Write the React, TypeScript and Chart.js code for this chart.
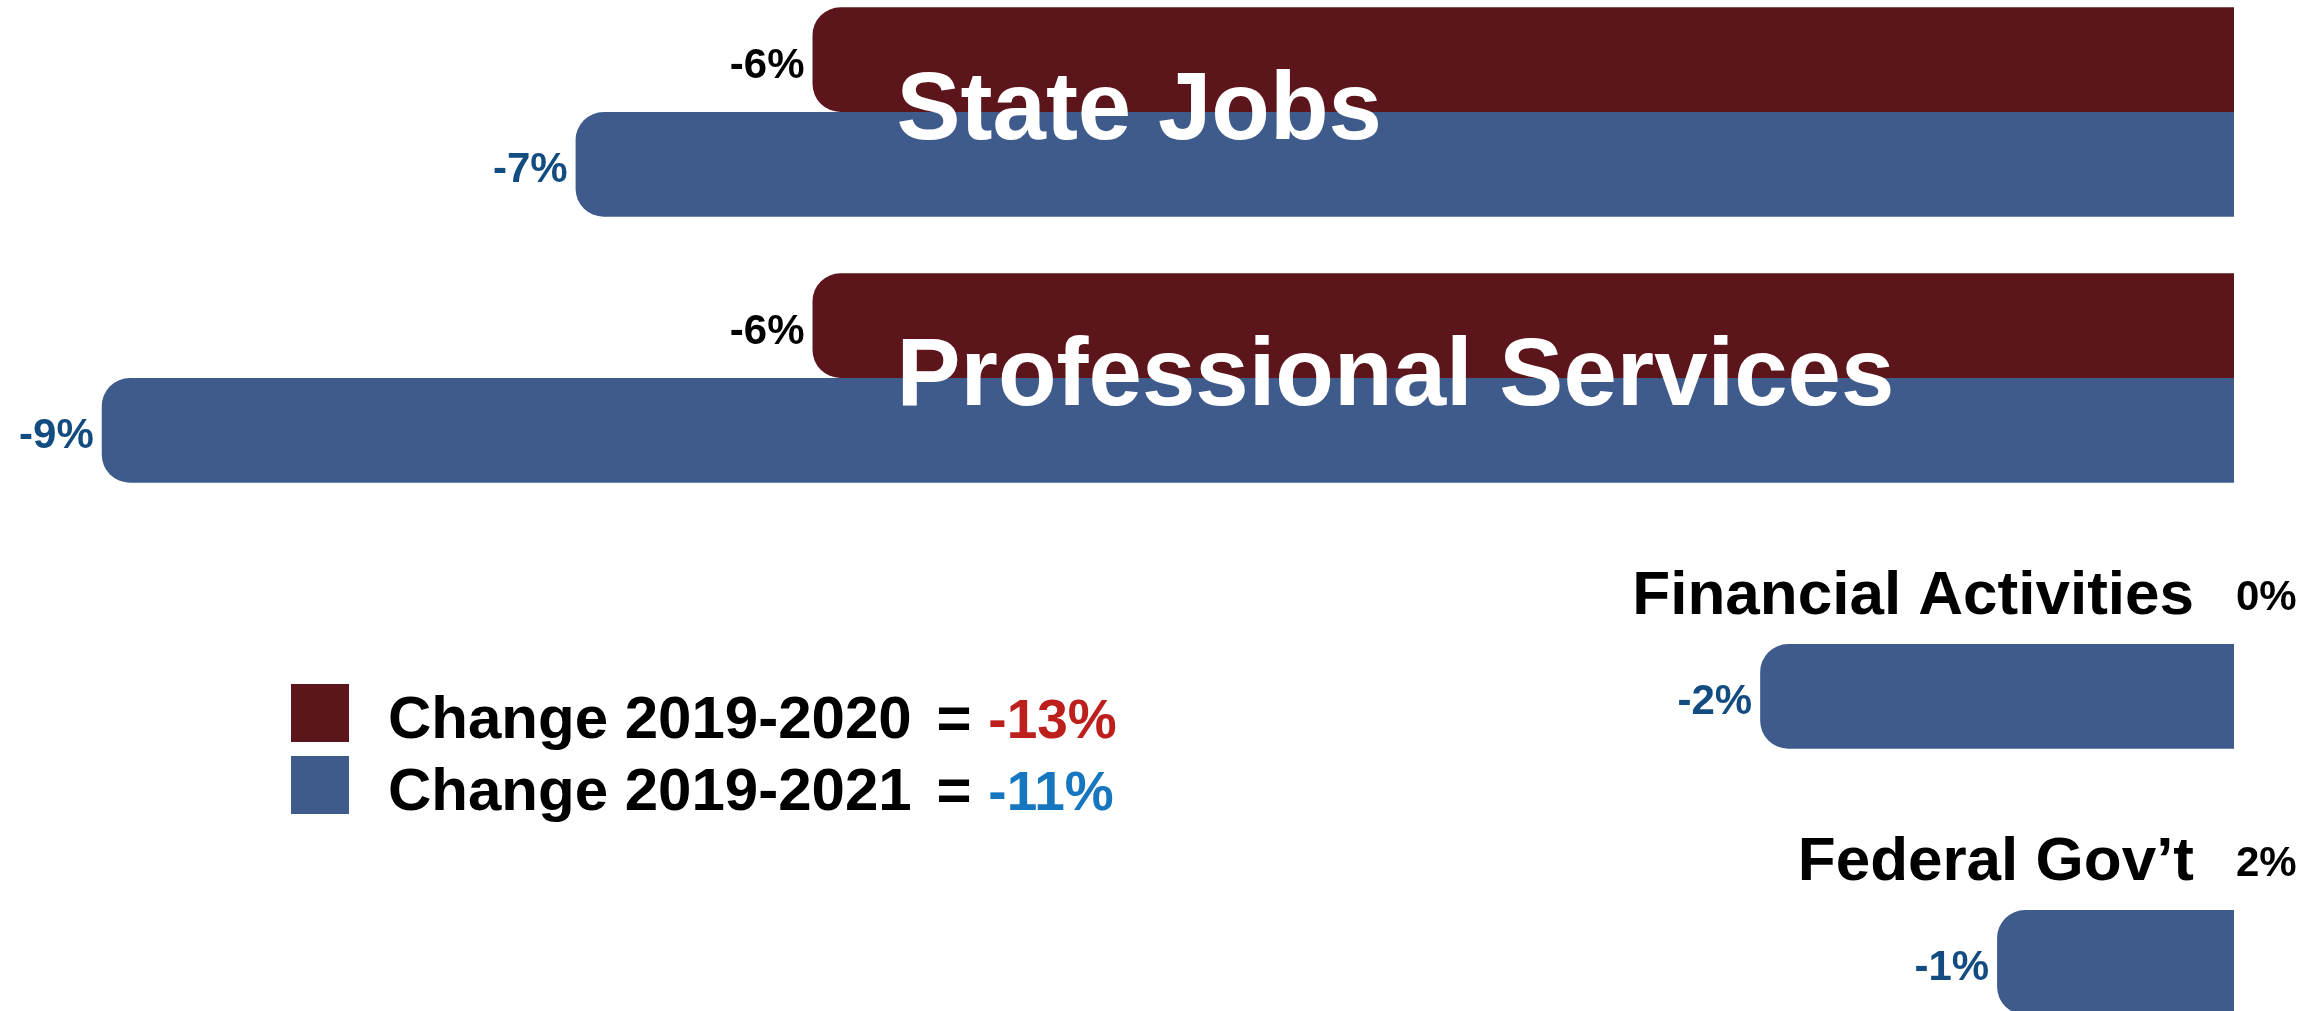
import React, { useEffect, useRef } from "react";
import { Chart, registerables } from "chart.js";

Chart.register(...registerables);

const categories = ["State Jobs", "Professional Services", "Financial Activities", "Federal Gov’t"];
const change2020 = [-6, -6, 0, 2];
const change2021 = [-7, -9, -2, -1];
const seriesNames = ["Change 2019-2020", "Change 2019-2021"];
const seriesTotals = ["-13%", "-11%"];

const RED = "#5C151A";
const BLUE = "#3E5B8C";
const BLUE_TEXT = "#124C80";
const TOTAL_COLORS = ["#BC1F1C", "#1677C0"];
const FONT = '"Liberation Sans", Arial, Helvetica, sans-serif';

const labelPlugin = {
  id: "customLabels",
  afterDatasetsDraw(chart: any) {
    const ctx = chart.ctx as CanvasRenderingContext2D;
    const area = chart.chartArea;
    const red = chart.getDatasetMeta(0).data;
    const blue = chart.getDatasetMeta(1).data;
    ctx.save();
    // value labels
    [0, 1].forEach((di) => {
      const meta = chart.getDatasetMeta(di);
      const values = chart.data.datasets[di].data as number[];
      meta.data.forEach((el: any, j: number) => {
        const v = values[j];
        ctx.font = `bold 42px ${FONT}`;
        ctx.textBaseline = "alphabetic";
        const txt = `${v}%`;
        if (v < 0) {
          ctx.textAlign = "right";
          ctx.fillStyle = di === 0 ? "#000" : BLUE_TEXT;
          ctx.fillText(txt, el.x - 8, el.y + 18);
        } else {
          ctx.textAlign = "left";
          ctx.fillStyle = "#000";
          ctx.fillText(txt, area.right + 2, el.y + 18);
        }
      });
    });
    // category labels
    categories.forEach((name, j) => {
      const r = red[j] as any;
      const b = blue[j] as any;
      ctx.font = `bold 96px ${FONT}`;
      const w = ctx.measureText(name).width;
      const left = Math.min(r.x, r.base);
      const inside = r.x < r.base && left + 84 + w < r.base;
      if (inside) {
        const boundary = (r.y + b.y) / 2;
        ctx.textAlign = "left";
        ctx.fillStyle = "#fff";
        ctx.fillText(name, left + 84, boundary + 27);
      } else {
        ctx.font = `bold 62px ${FONT}`;
        ctx.textAlign = "right";
        ctx.fillStyle = "#000";
        ctx.fillText(name, area.right - 40, r.y + 22);
      }
    });
    // legend
    const lx = 291;
    const ly = 705;
    const box = 58;
    const gap = 72;
    const colors = [RED, BLUE];
    seriesNames.forEach((s, i) => {
      const y = ly + i * gap;
      const tx = lx + 97;
      ctx.fillStyle = colors[i];
      ctx.fillRect(lx, y, box, box);
      ctx.font = `bold 60px ${FONT}`;
      ctx.textAlign = "left";
      ctx.fillStyle = "#000";
      ctx.fillText(s, tx, y + 54);
      const nw = ctx.measureText(s).width;
      const eqX = tx + nw + 25;
      ctx.fillText("=", eqX, y + 54);
      const ew = ctx.measureText("= ").width;
      ctx.font = `bold 55px ${FONT}`;
      ctx.fillStyle = TOTAL_COLORS[i];
      ctx.fillText(seriesTotals[i], eqX + ew, y + 54);
    });
    ctx.restore();
  },
};

export default function App() {
  const ref = useRef<HTMLCanvasElement>(null);
  useEffect(() => {
    const chart = new Chart(ref.current as HTMLCanvasElement, {
      type: "bar",
      data: {
        labels: categories,
        datasets: [
          {
            label: seriesNames[0],
            data: change2020,
            backgroundColor: RED,
            borderRadius: 28,
            borderSkipped: "start",
            clip: 0,
            categoryPercentage: 0.787,
            barPercentage: 1,
          } as any,
          {
            label: seriesNames[1],
            data: change2021,
            backgroundColor: BLUE,
            borderRadius: 28,
            borderSkipped: "start",
            clip: 0,
            categoryPercentage: 0.787,
            barPercentage: 1,
          } as any,
        ],
      },
      options: {
        indexAxis: "y",
        responsive: false,
        animation: false,
        devicePixelRatio: 1,
        layout: { padding: { left: 7, right: 84, top: 0, bottom: 0 } },
        scales: {
          x: { type: "linear", min: -9.4, max: 0, display: false },
          y: { display: false },
        },
        plugins: {
          legend: { display: false },
          tooltip: { enabled: false },
        },
      },
      plugins: [labelPlugin],
    });
    return () => chart.destroy();
  }, []);
  return (
    <div
      style={{
        position: "fixed",
        left: 0,
        top: -21,
        width: 2318,
        height: 1064,
        background: "#fff",
      }}
    >
      <canvas
        ref={ref}
        width={2318}
        height={1064}
        style={{ display: "block", width: 2318, height: 1064 }}
      />
    </div>
  );
}
